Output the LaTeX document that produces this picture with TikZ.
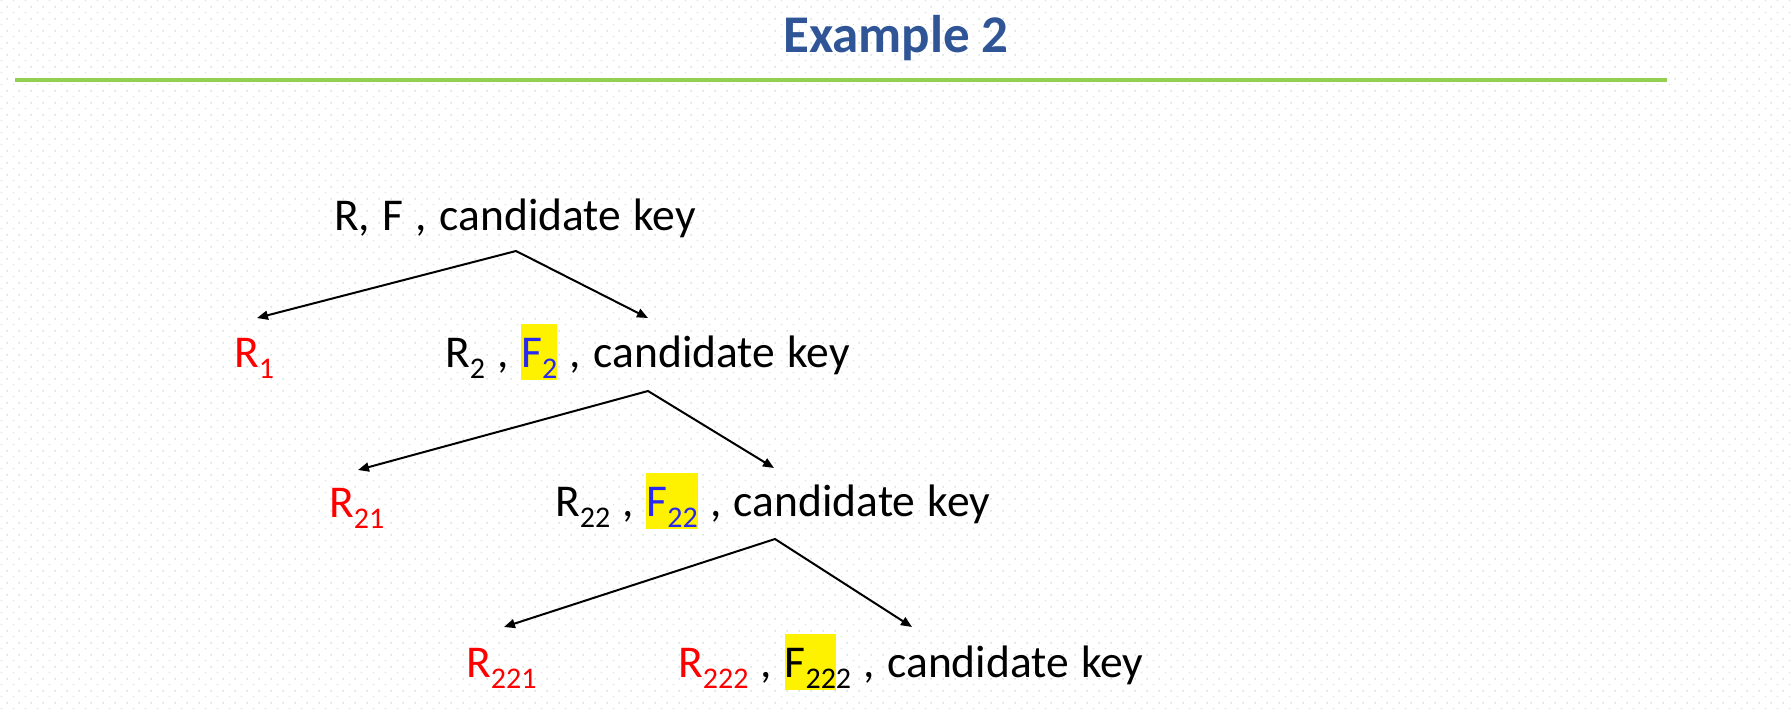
\documentclass[tikz,border=0pt]{standalone}
\usepackage{fontspec}
\setmainfont{Carlito}
\usetikzlibrary{arrows.meta,patterns.meta}
\definecolor{titleblue}{RGB}{47,85,151}
\definecolor{rulegreen}{RGB}{146,208,80}
\definecolor{fblue}{RGB}{40,40,240}
\definecolor{dotc}{RGB}{212,230,224}
\newcommand{\subs}[1]{\raisebox{-11.5pt}{\fontsize{30}{30}\selectfont #1}}
\newcommand{\hlbox}[1]{{\setlength{\fboxsep}{0pt}\colorbox{yellow}{\rule[-13pt]{0pt}{56pt}#1}}}
\newcommand{\widesp}{\spaceskip=12.4pt\relax}
\tikzdeclarepattern{
  name=bgdots,
  type=uncolored,
  bottom left={(0pt,0pt)},
  top right={(12pt,12pt)},
  tile size={(12pt,12pt)},
  code={
    \fill (2pt,2pt) rectangle (3.5pt,3.5pt);
    \fill (8pt,8pt) rectangle (9.5pt,9.5pt);
  }
}
\tikzset{
  txt/.style={anchor=base west, inner sep=0pt, font=\fontsize{45.5}{45.5}\selectfont, execute at begin node=\widesp},
  titletxt/.style={anchor=base, inner sep=0pt, text=titleblue, font=\fontsize{53}{53}\selectfont\bfseries},
  conn/.style={line width=2pt, line join=miter, {Triangle[length=11pt,width=9pt]}-{Triangle[length=11pt,width=9pt]}}
}
\begin{document}
\begin{tikzpicture}[x=1pt,y=-1pt]
\useasboundingbox (0,0) rectangle (1791,710);
\fill[white] (0,0) rectangle (1791,710);
\fill[pattern=bgdots, pattern color=dotc] (0,0) rectangle (1791,710);
% title and rule
\node[titletxt] (title) at (896,52) {Example 2};
\coordinate (ruleL) at (15,80);
\coordinate (ruleR) at (1667,80);
\draw[rulegreen, line width=4pt] (ruleL) -- (ruleR);
% text nodes
\node[txt] (root) at (334,230) {R, F , candidate key};
\node[txt, text=red] (r1) at (234,367) {R\subs{1}};
\node[txt] (r2) at (445,367) {R\subs{2} , \hlbox{\textcolor{fblue}{F\subs{2}}} , candidate key};
\node[txt, text=red] (r21) at (329,517) {R\subs{21}};
\node[txt] (r22) at (555,516) {R\subs{22} , \hlbox{\textcolor{fblue}{F\subs{22}}} , candidate key};
\node[txt, text=red] (r221) at (466,677) {R\subs{221}};
\node[txt] (r222) at (678,677) {\textcolor{red}{R\subs{222}} , \hlbox{F\subs{22}}\subs{2} , candidate key};
% connector points
\coordinate (a1) at (516,251);
\coordinate (l1) at (257,318);
\coordinate (m1) at (648,318);
\coordinate (a2) at (648,391);
\coordinate (l2) at (358,470);
\coordinate (m2) at (774,468);
\coordinate (a3) at (775,539);
\coordinate (l3) at (504,627);
\coordinate (m3) at (912,627);
\draw[conn] (l1) -- (a1) -- (m1);
\draw[conn] (l2) -- (a2) -- (m2);
\draw[conn] (l3) -- (a3) -- (m3);
\end{tikzpicture}
\end{document}
